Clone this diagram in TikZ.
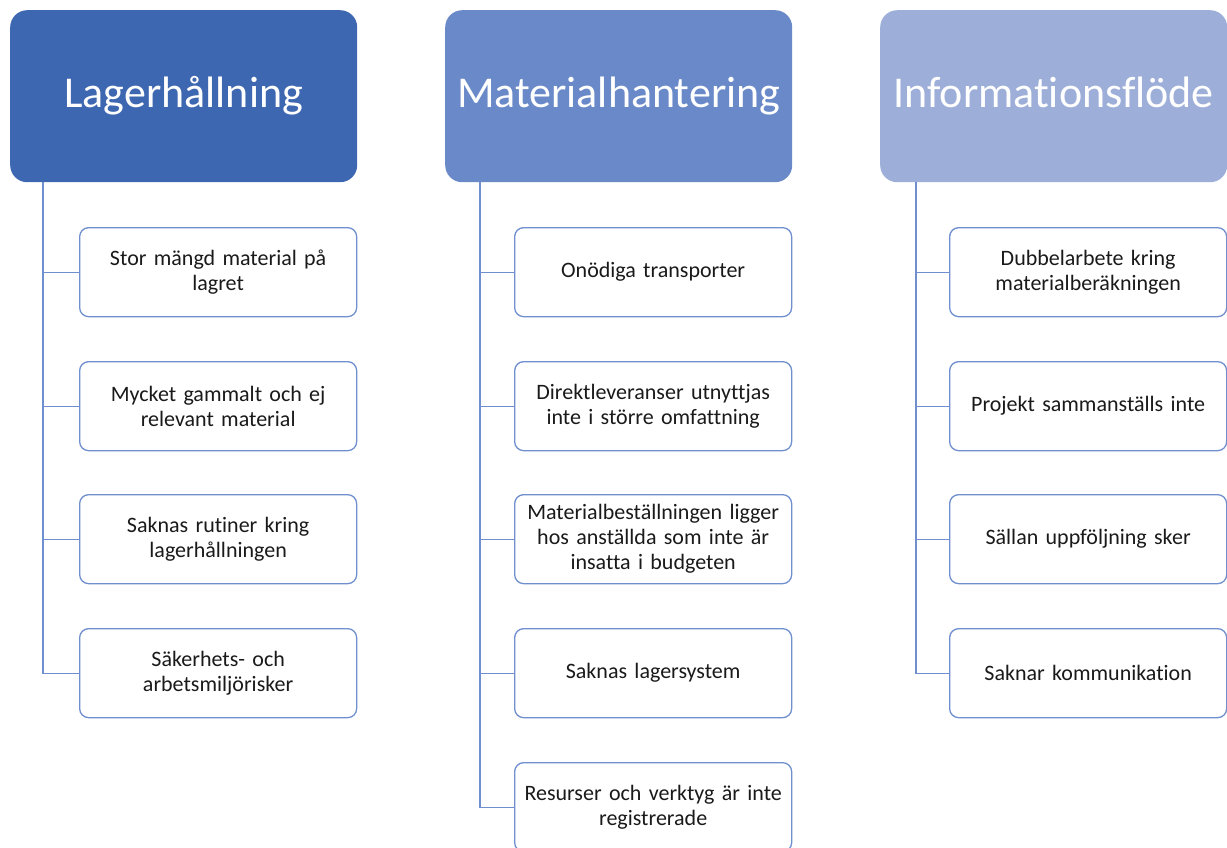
\documentclass[tikz,border=0pt]{standalone}
\usepackage{fontspec}
\setmainfont{Carlito}[Ligatures=NoCommon]
\definecolor{headA}{HTML}{3E67B1}
\definecolor{headB}{HTML}{6A89C8}
\definecolor{headC}{HTML}{9DAED9}
\definecolor{edgeblue}{HTML}{6F8FCF}
\definecolor{txt}{HTML}{1A1A1A}
\begin{document}
\begin{tikzpicture}[x=1pt,y=-1pt,
  header/.style={rounded corners=17pt, minimum width=347pt, minimum height=172pt,
    anchor=north west, inner sep=0pt, text=white, text height=32pt, text depth=10pt,
    font=\fontsize{44}{50}\selectfont},
  item/.style={draw=edgeblue, line width=1.3pt, fill=white, rounded corners=9pt,
    minimum width=277pt, minimum height=89pt, anchor=north west, inner sep=2pt,
    text width=272pt, align=center, text=txt, font=\fontsize{22}{25}\selectfont},
  link/.style={draw=edgeblue, line width=1.3pt}]
\useasboundingbox (0,0) rectangle (1227,847);

% column headers
\node[header, fill=headA] (h1) at (10,10) {Lagerhållning};
\node[header, fill=headB] (h2) at (445,10) {Materialhantering};
\node[header, fill=headC] (h3) at (880,10) {Informationsflöde};

% first column
\node[item] (a1) at (79,227) {Stor mängd material på\\lagret};
\node[item] (a2) at (79,361) {Mycket gammalt och ej\\relevant material};
\node[item] (a3) at (79,494) {Saknas rutiner kring\\lagerhållningen};
\node[item] (a4) at (79,628) {Säkerhets- och\\arbetsmiljörisker};

% second column
\node[item] (b1) at (514,227) {Onödiga transporter};
\node[item] (b2) at (514,361) {Direktleveranser utnyttjas\\inte i större omfattning};
\node[item] (b3) at (514,494) {Materialbeställningen ligger\\hos anställda som inte är\\insatta i budgeten};
\node[item] (b4) at (514,628) {Saknas lagersystem};
\node[item] (b5) at (514,762) {Resurser och verktyg är inte\\registrerade};

% third column
\node[item] (c1) at (949,227) {Dubbelarbete kring\\materialberäkningen};
\node[item] (c2) at (949,361) {Projekt sammanställs inte};
\node[item] (c3) at (949,494) {Sällan uppföljning sker};
\node[item] (c4) at (949,628) {Saknar kommunikation};

% tree connectors
\foreach \n in {a1,a2,a3,a4}
  \draw[link] (h1.south west) ++(33,0) |- (\n.west);
\foreach \n in {b1,b2,b3,b4,b5}
  \draw[link] (h2.south west) ++(35,0) |- (\n.west);
\foreach \n in {c1,c2,c3,c4}
  \draw[link] (h3.south west) ++(36,0) |- (\n.west);
\end{tikzpicture}
\end{document}
